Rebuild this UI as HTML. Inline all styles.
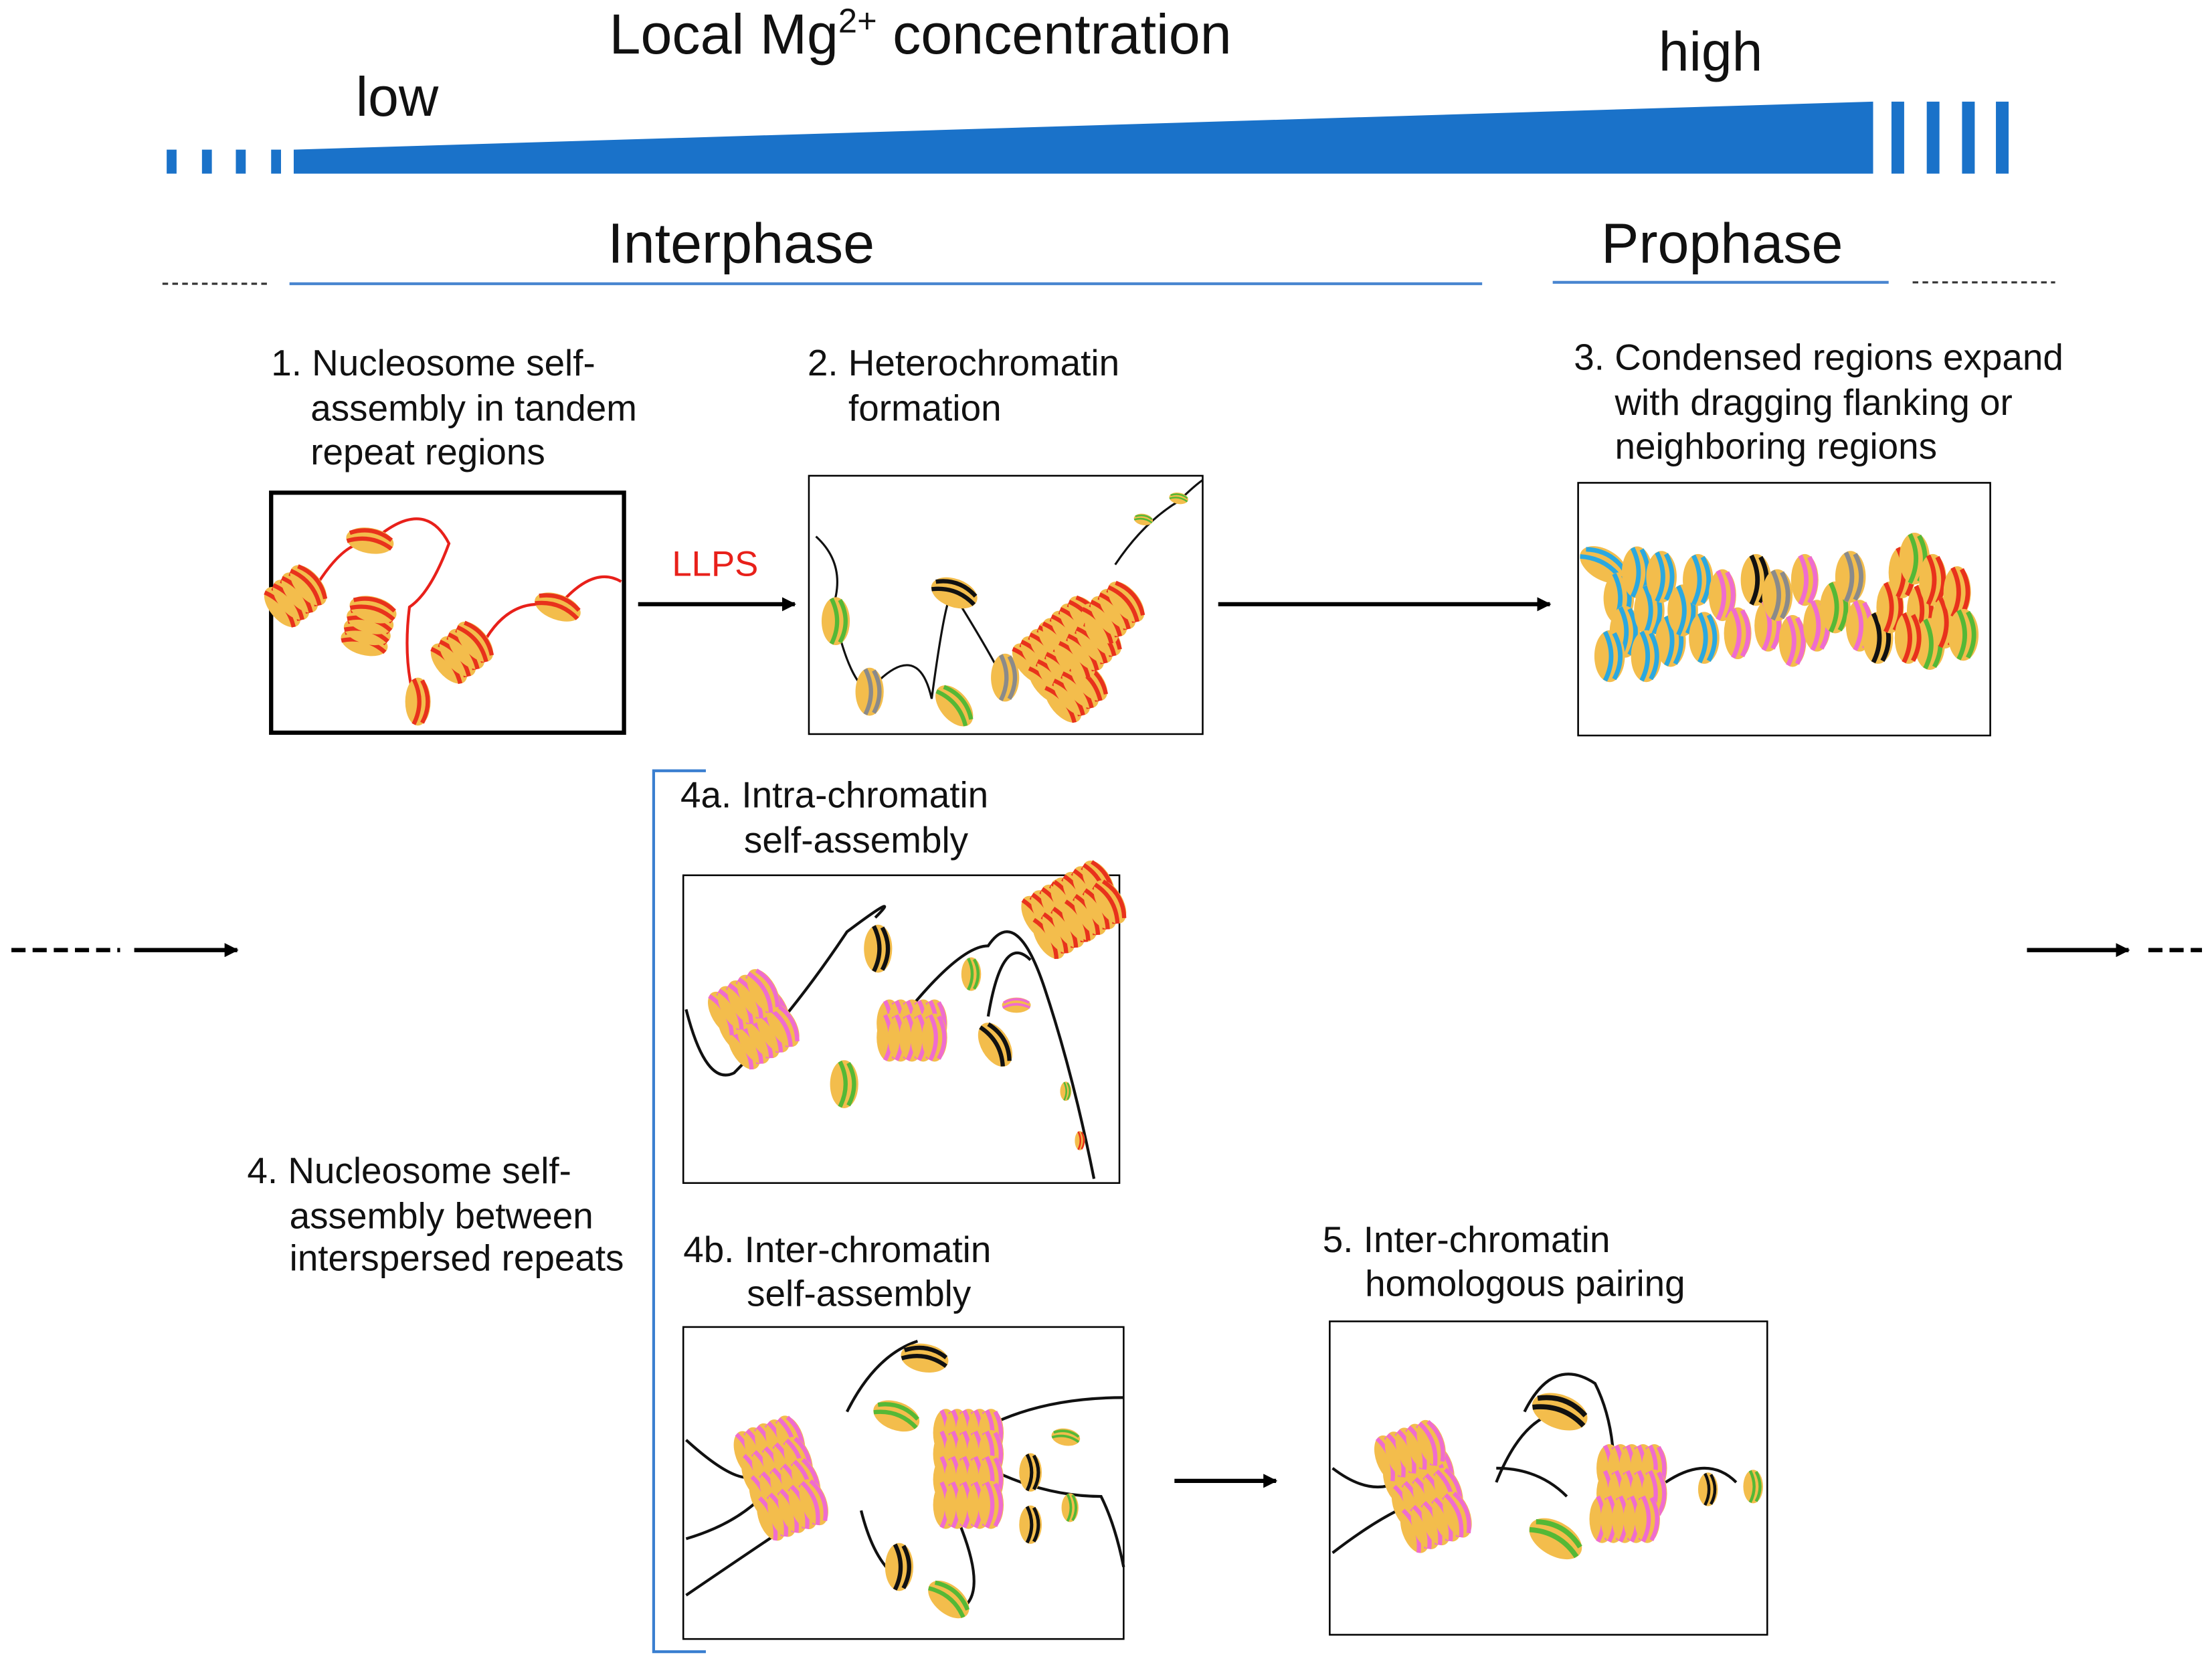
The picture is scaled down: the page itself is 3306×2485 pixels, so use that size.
<!DOCTYPE html>
<html><head><meta charset="utf-8"><style>
html,body{margin:0;padding:0;background:#fff;width:3306px;height:2485px;overflow:hidden}
svg{display:block}
text{font-family:"Liberation Sans",sans-serif;fill:#111}
</style></head><body>
<svg width="3306" height="2485" viewBox="0 0 1567 1178" xmlns="http://www.w3.org/2000/svg">
<defs>
<marker id="ah" markerWidth="10" markerHeight="10" refX="9" refY="5" orient="auto" markerUnits="userSpaceOnUse"><path d="M0,0 L10,5 L0,10 Z" fill="#000"/></marker>
<g id="nr"><ellipse cx="0" cy="0" rx="9" ry="17" fill="#f3bd4c"/><path d="M-3,-16 Q5,0 -3,16 M3,-15 Q11,0 3,15" stroke="#e8321c" stroke-width="3" fill="none"/></g>
<g id="np"><ellipse cx="0" cy="0" rx="9" ry="17" fill="#f3bd4c"/><path d="M-3,-16 Q5,0 -3,16 M3,-15 Q11,0 3,15" stroke="#ef6ccf" stroke-width="3" fill="none"/></g>
<g id="ng"><ellipse cx="0" cy="0" rx="10" ry="17" fill="#f3bd4c"/><path d="M-3,-16 Q5,0 -3,16 M3,-15 Q11,0 3,15" stroke="#55b836" stroke-width="3" fill="none"/></g>
<g id="nk"><ellipse cx="0" cy="0" rx="10" ry="17" fill="#f3bd4c"/><path d="M-3,-16 Q5,0 -3,16 M3,-15 Q11,0 3,15" stroke="#111" stroke-width="3" fill="none"/></g>
<g id="nb"><ellipse cx="0" cy="0" rx="10" ry="17" fill="#f3bd4c"/><path d="M-3,-16 Q5,0 -3,16 M3,-15 Q11,0 3,15" stroke="#2aa8e0" stroke-width="3" fill="none"/></g>
<g id="ny"><ellipse cx="0" cy="0" rx="10" ry="17" fill="#f3bd4c"/><path d="M-3,-16 Q5,0 -3,16 M3,-15 Q11,0 3,15" stroke="#8a8a8a" stroke-width="3" fill="none"/></g>
<g id="sr"><use href="#nr" x="0"/><use href="#nr" x="8"/><use href="#nr" x="16"/><use href="#nr" x="24"/></g>
<g id="sp"><use href="#np" x="0"/><use href="#np" x="8"/><use href="#np" x="16"/><use href="#np" x="24"/><use href="#np" x="32"/></g>
</defs>

<text x="652" y="38" font-size="40" text-anchor="middle">Local Mg<tspan font-size="24" dy="-15">2+</tspan><tspan dy="15"> concentration</tspan></text>
<text x="252" y="82" font-size="39">low</text>
<text x="1175" y="50" font-size="39">high</text>
<g fill="#1a72c9">
<rect x="118" y="106" width="7" height="17"/><rect x="143" y="106" width="7" height="17"/><rect x="167" y="106" width="7" height="17"/><rect x="192" y="106" width="7" height="17"/>
<polygon points="208,106 1327,72 1327,123 208,123"/>
<rect x="1340" y="72" width="9" height="51"/><rect x="1365" y="72" width="9" height="51"/><rect x="1390" y="72" width="9" height="51"/><rect x="1414" y="72" width="9" height="51"/>
</g>
<text x="525" y="186" font-size="40" text-anchor="middle">Interphase</text>
<text x="1220" y="186" font-size="40" text-anchor="middle">Prophase</text>
<line x1="205" y1="201" x2="1050" y2="201" stroke="#4a86d0" stroke-width="2"/>
<line x1="1100" y1="200" x2="1338" y2="200" stroke="#4a86d0" stroke-width="2"/>
<line x1="115" y1="201" x2="190" y2="201" stroke="#333" stroke-width="1.5" stroke-dasharray="4,3"/>
<line x1="1355" y1="200" x2="1456" y2="200" stroke="#333" stroke-width="1.5" stroke-dasharray="4,3"/>

<g font-size="26">
<text x="192" y="266">1. Nucleosome self-</text><text x="220" y="298">assembly in tandem</text><text x="220" y="329">repeat regions</text>
<text x="572" y="266">2. Heterochromatin</text><text x="601" y="298">formation</text>
<text x="1115" y="262">3. Condensed regions expand</text><text x="1144" y="294">with dragging flanking or</text><text x="1144" y="325">neighboring regions</text>
<text x="482" y="572">4a. Intra-chromatin</text><text x="527" y="604">self-assembly</text>
<text x="175" y="838">4. Nucleosome self-</text><text x="205" y="870">assembly between</text><text x="205" y="900">interspersed repeats</text>
<text x="484" y="894">4b. Inter-chromatin</text><text x="529" y="925">self-assembly</text>
<text x="937" y="887">5. Inter-chromatin</text><text x="967" y="918">homologous pairing</text>
</g>
<text x="476" y="408" font-size="25" style="fill:#e8201a">LLPS</text>

<g stroke="#000" stroke-width="3">
<line x1="452" y1="428" x2="563" y2="428" marker-end="url(#ah)"/>
<line x1="863" y1="428" x2="1098" y2="428" marker-end="url(#ah)"/>
<line x1="832" y1="1049" x2="904" y2="1049" marker-end="url(#ah)"/>
<line x1="8" y1="673" x2="85" y2="673" stroke-dasharray="10,5"/>
<line x1="95" y1="673" x2="168" y2="673" marker-end="url(#ah)"/>
<line x1="1436" y1="673" x2="1508" y2="673" marker-end="url(#ah)"/>
<line x1="1522" y1="673" x2="1560" y2="673" stroke-dasharray="10,5"/>
</g>
<path d="M500,546 L463,546 L463,1170 L500,1170" stroke="#3a7fd0" stroke-width="2" fill="none"/>

<rect x="192" y="349" width="250" height="170" fill="none" stroke="#000" stroke-width="3"/>
<rect x="573" y="337" width="279" height="183" fill="none" stroke="#000" stroke-width="1.2"/>
<rect x="1118" y="342" width="292" height="179" fill="none" stroke="#000" stroke-width="1.2"/>
<rect x="484" y="620" width="309" height="218" fill="none" stroke="#000" stroke-width="1.2"/>
<rect x="484" y="940" width="312" height="221" fill="none" stroke="#000" stroke-width="1.2"/>
<rect x="942" y="936" width="310" height="222" fill="none" stroke="#000" stroke-width="1.2"/>

<path d="M210,440 Q240,380 262,385 Q300,350 318,385 Q305,420 290,430 Q285,470 295,500 M340,460 Q360,420 395,430 Q420,400 440,412" stroke="#e8201a" stroke-width="2" fill="none"/>
<use href="#sr" transform="translate(200,430) rotate(-40)"/>
<use href="#sr" transform="translate(258,455) rotate(-75)"/>
<use href="#sr" transform="translate(318,470) rotate(-40)"/>
<use href="#nr" transform="translate(262,383) rotate(-80)"/>
<use href="#nr" transform="translate(296,497)"/>
<use href="#nr" transform="translate(395,430) rotate(-70)"/>

<path d="M578,380 Q600,400 590,430 Q600,480 615,490 Q650,450 660,495 Q670,420 675,420 Q700,460 710,480 Q740,460 760,440 M790,400 Q810,370 835,355 Q845,345 852,340" stroke="#111" stroke-width="1.5" fill="none"/>
<use href="#ng" transform="translate(592,440)"/>
<use href="#ny" transform="translate(616,490)"/>
<use href="#ng" transform="translate(676,500) rotate(-40)"/>
<use href="#nk" transform="translate(676,420) rotate(-70)"/>
<use href="#ny" transform="translate(712,480)"/>
<g transform="translate(730,470) rotate(-40)"><use href="#sr"/><use href="#sr" y="18"/><use href="#sr" y="36"/><use href="#sr" x="28"/><use href="#sr" x="28" y="18"/><use href="#sr" x="56" y="10"/></g>
<use href="#ng" transform="translate(810,368) rotate(-80) scale(.4)"/>
<use href="#ng" transform="translate(835,353) rotate(-80) scale(.4)"/>

<g transform="translate(1136,400) scale(1.08)">
<use href="#nb" transform="rotate(-60)"/><use href="#nb" x="10" y="22"/><use href="#nb" x="22" y="5"/><use href="#nb" x="14" y="44"/><use href="#nb" x="30" y="30"/><use href="#nb" x="38" y="8"/><use href="#nb" x="44" y="50"/><use href="#nb" x="52" y="30"/><use href="#nb" x="62" y="10"/><use href="#nb" x="66" y="48"/><use href="#nb" x="4" y="60"/><use href="#nb" x="28" y="60"/>
<use href="#np" x="78" y="20"/><use href="#np" x="88" y="45"/><use href="#nk" x="100" y="10"/><use href="#np" x="108" y="40"/><use href="#ny" x="114" y="20"/><use href="#np" x="124" y="50"/><use href="#np" x="132" y="10"/><use href="#np" x="140" y="40"/><use href="#ng" x="152" y="28"/><use href="#ny" x="162" y="8"/><use href="#np" x="168" y="40"/><use href="#nk" x="180" y="48"/>
<use href="#nr" x="188" y="28"/><use href="#nr" x="196" y="5"/><use href="#ng" x="204" y="-4"/><use href="#nr" x="208" y="30"/><use href="#nr" x="216" y="10"/><use href="#ng" x="214" y="52"/><use href="#nr" x="224" y="38"/><use href="#nr" x="232" y="18"/><use href="#ng" x="236" y="46"/><use href="#nr" x="200" y="48"/>
</g>

<path d="M486,715 Q500,770 520,760 Q560,720 600,660 Q640,630 620,650 M640,720 Q680,670 700,670 Q720,640 740,700 Q760,760 775,835 M700,720 Q710,660 730,680" stroke="#111" stroke-width="2" fill="none"/>
<g transform="translate(520,730) rotate(-30)"><use href="#sp"/><use href="#sp" y="14"/><use href="#sp" y="-14"/></g>
<use href="#nk" transform="translate(622,672)"/>
<use href="#ng" transform="translate(598,768)"/>
<g transform="translate(630,725)"><use href="#sp"/><use href="#sp" y="10"/></g>
<use href="#nk" transform="translate(705,740) rotate(-30)"/>
<use href="#ng" transform="translate(688,690) scale(.7)"/>
<use href="#np" transform="translate(720,712) rotate(-90) scale(.6)"/>
<use href="#ng" transform="translate(755,773) scale(.4)"/>
<use href="#nr" transform="translate(765,808) scale(.4)"/>
<g transform="translate(735,650) rotate(-30)"><use href="#sr"/><use href="#sr" y="16"/><use href="#sr" x="26" y="0"/><use href="#sr" x="26" y="16"/></g>

<path d="M486,1020 Q530,1060 540,1040 M486,1090 Q520,1080 540,1060 M600,1000 Q620,960 650,950 M610,1070 Q620,1110 640,1120 M700,1040 Q740,1060 780,1060 Q790,1080 796,1110 M700,1010 Q740,990 796,990 M486,1130 Q530,1100 560,1080 M680,1080 Q700,1130 680,1140" stroke="#111" stroke-width="2" fill="none"/>
<g transform="translate(530,1030) rotate(-20)"><use href="#sp"/><use href="#sp" y="16"/><use href="#sp" y="32"/><use href="#sp" y="48"/></g>
<use href="#nk" transform="translate(655,962) rotate(-80)"/>
<use href="#ng" transform="translate(635,1003) rotate(-70)"/>
<g transform="translate(670,1030)"><use href="#sp" y="-15"/><use href="#sp"/><use href="#sp" y="18"/><use href="#sp" y="36"/></g>
<use href="#nk" transform="translate(730,1043) scale(.8)"/>
<use href="#nk" transform="translate(730,1080) scale(.8)"/>
<use href="#ng" transform="translate(755,1018) rotate(-80) scale(.6)"/>
<use href="#ng" transform="translate(758,1068) scale(.6)"/>
<use href="#nk" transform="translate(637,1110)"/>
<use href="#ng" transform="translate(672,1133) rotate(-50)"/>

<path d="M944,1040 Q970,1060 990,1050 M944,1100 Q970,1080 990,1070 M1060,1040 Q1090,1040 1110,1060 M1080,1000 Q1100,960 1130,980 Q1150,1020 1140,1080 Q1160,1030 1170,1060 M1180,1050 Q1210,1030 1230,1050 M1060,1050 Q1080,1000 1110,1000" stroke="#111" stroke-width="2" fill="none"/>
<g transform="translate(990,1050) rotate(-20)"><use href="#sp"/><use href="#sp" y="18"/><use href="#sp" y="36"/><use href="#sp" y="-18"/></g>
<use href="#nk" transform="translate(1105,1000) rotate(-70) scale(1.2)"/>
<g transform="translate(1140,1040)"><use href="#sp"/><use href="#sp" y="18"/><use href="#sp" y="36" x="-5"/></g>
<use href="#ng" transform="translate(1102,1090) rotate(-60) scale(1.2)"/>
<use href="#nk" transform="translate(1210,1055) scale(.7)"/>
<use href="#ng" transform="translate(1242,1053) scale(.7)"/>
</svg>
</body></html>
